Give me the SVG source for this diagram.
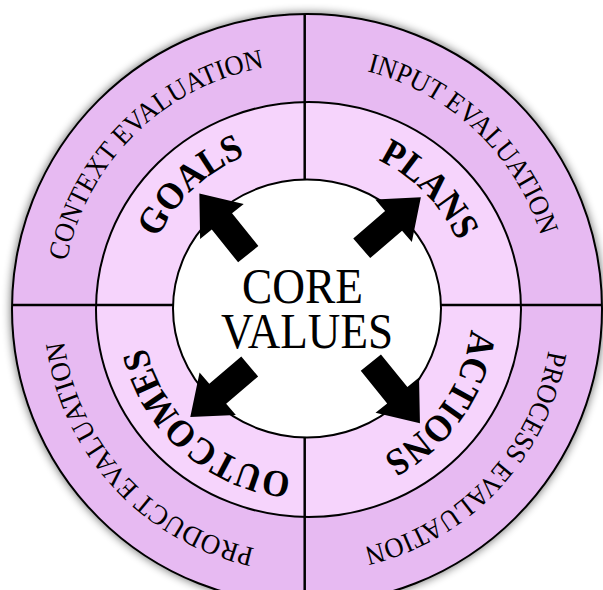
<svg xmlns="http://www.w3.org/2000/svg" width="603" height="590" viewBox="0 0 603 590">
<defs>
<filter id="shadow" x="-10%" y="-10%" width="120%" height="120%">
<feGaussianBlur in="SourceAlpha" stdDeviation="5"/>
<feComponentTransfer><feFuncA type="linear" slope="0.6"/></feComponentTransfer>
<feMerge><feMergeNode/><feMergeNode in="SourceGraphic"/></feMerge>
</filter>
<path id="outerPath" d="M552,309 A245,245 0 1,1 62,309 A245,245 0 1,1 552,309"/>
<path id="innerPath" d="M472,309 A165,165 0 1,1 142,309 A165,165 0 1,1 472,309"/>
<path id="arrow" d="M-39,-13 L3,-13 L3,-28 L39,0 L3,28 L3,13 L-39,13 Z"/>
</defs>
<style>
.ring{stroke:#000;stroke-width:2}
.outer{fill:#E7BAF2}
.inner{fill:#F6D4FC}
.core{fill:#FFFFFF}
.div{stroke:#000;stroke-width:2.5;fill:none}
.lbl{font-family:"Liberation Serif","Times New Roman",serif;font-size:28px;fill:#000}
.big{font-family:"Liberation Serif","Times New Roman",serif;font-size:38px;font-weight:bold;fill:#000}
.cv{font-family:"Liberation Serif","Times New Roman",serif;font-size:50px;fill:#000}
.arr{fill:#000}
</style>

<g id="outer-ring">
<circle class="ring outer" cx="307" cy="309" r="295" filter="url(#shadow)"/>
</g>
<g id="inner-ring">
<ellipse class="ring inner" cx="308.5" cy="309.5" rx="212.5" ry="207.5"/>
</g>
<g id="dividers">
<line class="div" x1="304.7" y1="14" x2="304.7" y2="590"/>
<line class="div" x1="12" y1="305" x2="602" y2="305"/>
</g>
<g id="core">
<ellipse class="ring core" cx="307" cy="308.5" rx="134" ry="129"/>
<text class="cv" x="242" y="303" textLength="121" lengthAdjust="spacingAndGlyphs">CORE</text>
<text class="cv" x="221" y="348" textLength="172" lengthAdjust="spacingAndGlyphs">VALUES</text>
</g>

<g id="context-evaluation">
<text class="lbl" text-anchor="middle"><textPath href="#outerPath" startOffset="62.67%" textLength="294" lengthAdjust="spacingAndGlyphs">CONTEXT EVALUATION</textPath></text>
</g>
<g id="input-evaluation">
<text class="lbl" text-anchor="middle"><textPath href="#outerPath" startOffset="87.06%" textLength="250" lengthAdjust="spacingAndGlyphs">INPUT EVALUATION</textPath></text>
</g>
<g id="process-evaluation">
<text class="lbl" text-anchor="middle"><textPath href="#outerPath" startOffset="12%" textLength="286" lengthAdjust="spacingAndGlyphs">PROCESS EVALUATION</textPath></text>
</g>
<g id="product-evaluation">
<text class="lbl" text-anchor="middle"><textPath href="#outerPath" startOffset="38.17%" textLength="300" lengthAdjust="spacingAndGlyphs">PRODUCT EVALUATION</textPath></text>
</g>

<g id="goals">
<text class="big" text-anchor="middle"><textPath href="#innerPath" startOffset="62.97%" textLength="123" lengthAdjust="spacingAndGlyphs">GOALS</textPath></text>
</g>
<g id="plans">
<text class="big" text-anchor="middle"><textPath href="#innerPath" startOffset="87.69%" textLength="116" lengthAdjust="spacingAndGlyphs">PLANS</textPath></text>
</g>
<g id="actions">
<text class="big" text-anchor="middle"><textPath href="#innerPath" startOffset="9.69%" textLength="160" lengthAdjust="spacingAndGlyphs">ACTIONS</textPath></text>
</g>
<g id="outcomes">
<text class="big" text-anchor="middle"><textPath href="#innerPath" startOffset="36.39%" textLength="205" lengthAdjust="spacingAndGlyphs">OUTCOMES</textPath></text>
</g>

<g id="connectors">
<use href="#arrow" class="arr" transform="translate(391.3,222.8) rotate(-40.7)"/>
<use href="#arrow" class="arr" transform="translate(223.8,223.8) rotate(-128.8)"/>
<use href="#arrow" class="arr" transform="translate(220,391.8) rotate(139.6)"/>
<use href="#arrow" class="arr" transform="translate(395.4,392.9) rotate(51)"/>
</g>
</svg>
